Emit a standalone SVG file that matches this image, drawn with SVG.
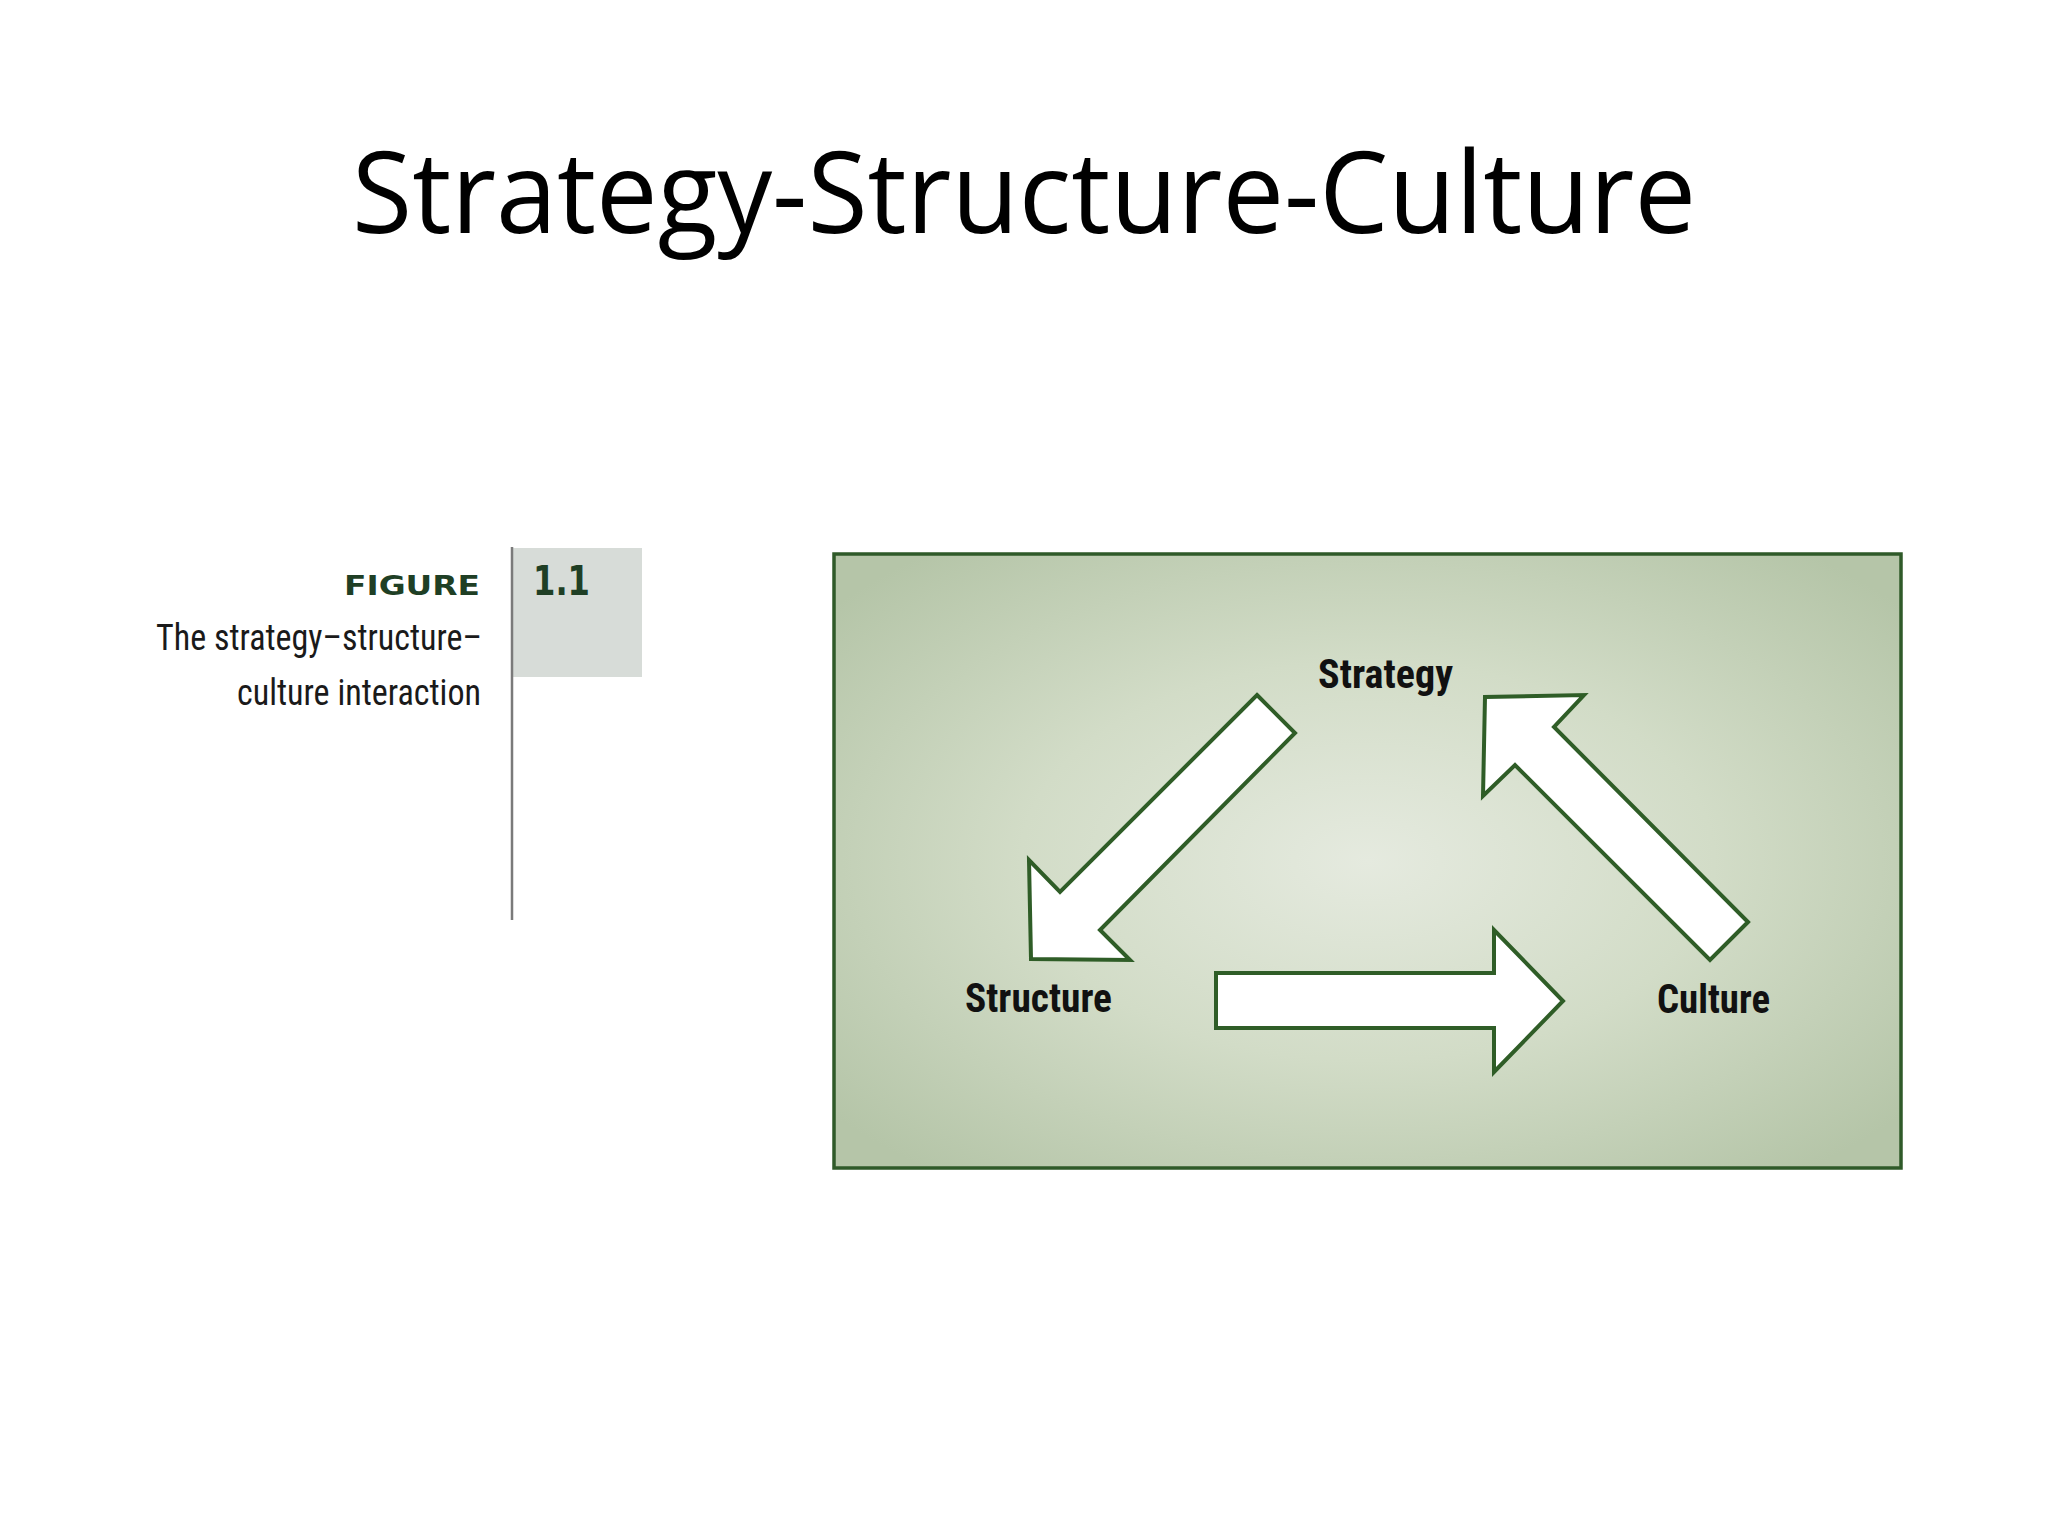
<svg xmlns="http://www.w3.org/2000/svg" width="2048" height="1536" viewBox="0 0 2048 1536">
  <style>
    .title { font-family: "Open Sans", "Noto Sans", "Liberation Sans", sans-serif; font-size: 113px; fill: #000; }
    .lbl { font-family: "Liberation Sans Narrow", "Roboto Condensed", "Roboto", "Liberation Sans", sans-serif; font-weight: bold; font-size: 41px; fill: #111; }
    .cap { font-family: "Liberation Sans Narrow", "Roboto Condensed", "Roboto", "Liberation Sans", sans-serif; font-size: 36px; fill: #1a1a1a; }
    .fig { font-family: "DejaVu Sans", "Liberation Sans", sans-serif; font-weight: bold; fill: #1f3f25; }
    .arrow { fill: #ffffff; stroke: #2f5d27; stroke-width: 4; stroke-linejoin: miter; }
  </style>
  <defs>
    <radialGradient id="bg" cx="0.5" cy="0.5" r="0.65" fx="0.5" fy="0.5">
      <stop offset="0" stop-color="#e5eadf"/>
      <stop offset="0.5" stop-color="#d2dcc7"/>
      <stop offset="1" stop-color="#b5c5a8"/>
    </radialGradient>
  </defs>
  <rect width="2048" height="1536" fill="#ffffff"/>

  <text class="title" x="352" y="233" textLength="1344" lengthAdjust="spacingAndGlyphs">Strategy-Structure-Culture</text>

  <g id="caption">
    <rect x="513" y="548" width="129" height="129" fill="#d7dcd8"/>
    <line x1="512" y1="547" x2="512" y2="920" stroke="#7a7a7a" stroke-width="2.5"/>
    <text class="fig" x="344" y="595" font-size="27" textLength="136" lengthAdjust="spacingAndGlyphs">FIGURE</text>
    <text class="fig" x="533" y="595" font-size="41" textLength="57" lengthAdjust="spacingAndGlyphs">1.1</text>
    <text class="cap" x="156" y="650" textLength="326" lengthAdjust="spacingAndGlyphs">The strategy–structure–</text>
    <text class="cap" x="237" y="705" textLength="244" lengthAdjust="spacingAndGlyphs">culture interaction</text>
  </g>

  <g id="panel">
    <rect x="834" y="554" width="1067" height="614" fill="url(#bg)" stroke="#2f5a29" stroke-width="3.5"/>
  </g>

  <g id="strategy">
    <text class="lbl" x="1318" y="688" textLength="135" lengthAdjust="spacingAndGlyphs">Strategy</text>
  </g>
  <g id="structure">
    <text class="lbl" x="965" y="1012" textLength="147" lengthAdjust="spacingAndGlyphs">Structure</text>
  </g>
  <g id="culture">
    <text class="lbl" x="1657" y="1013" textLength="113" lengthAdjust="spacingAndGlyphs">Culture</text>
  </g>

  <g id="connectors">
    <polygon class="arrow" points="1257,695 1295,733 1100,930 1130,960 1031,959 1029,860 1060,892"/>
    <polygon class="arrow" points="1216,973 1494,973 1494,930 1563,1001 1494,1072 1494,1028 1216,1028"/>
    <polygon class="arrow" points="1748,922 1710,960 1515,765 1483,796 1485,697 1584,695 1554,727"/>
  </g>
</svg>
